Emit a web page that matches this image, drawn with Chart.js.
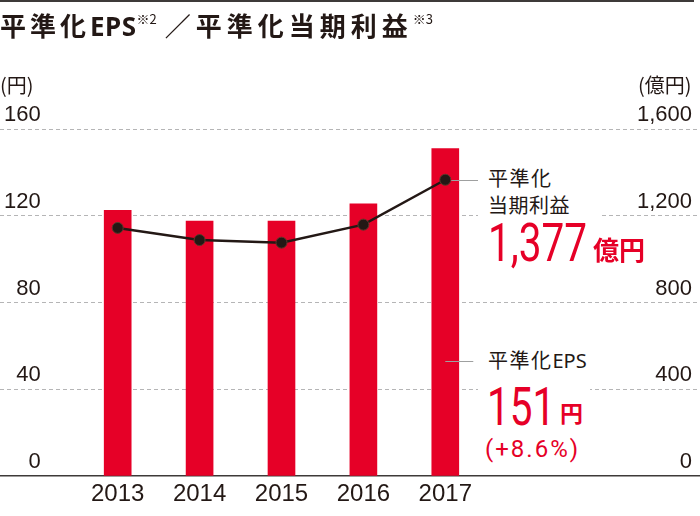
<!DOCTYPE html>
<html lang="ja">
<head>
<meta charset="utf-8">
<script src="https://cdn.jsdelivr.net/npm/chart.js@4/dist/chart.umd.min.js"></script>
<style>
  html, body { margin: 0; padding: 0; background: #fff; overflow: hidden; }
  #wrap { position: relative; width: 700px; height: 516px; }
  #c { position: absolute; left: 0; top: 0; }
  .t { position: absolute; white-space: nowrap; line-height: 1; color: #231815; font-family: "Noto Sans CJK JP", "Noto Sans", sans-serif; }
  #topline { position: absolute; left: 0; top: 0; width: 694px; height: 2px; background: #3e3a39; }
  #title { left: 0; top: 12px; font-size: 26px; font-weight: 700; }
  #title .cj { letter-spacing: 4px; }
  #title .cj2 { letter-spacing: 5px; }
  #title .la { letter-spacing: 0.5px; font-family: "Noto Sans", sans-serif; }
  #title sup { font-size: 13px; font-weight: 400; vertical-align: top; position: relative; top: 0px; margin-right: 8px; }
  .unit { font-size: 20px; top: 75px; }
  .box { position: absolute; background: #fff; }
  .red { color: #e60027; }
  .big { font-family: Roboto, "Liberation Sans", sans-serif; font-size: 54px; transform: scaleX(0.75); transform-origin: 0 0; }
</style>
</head>
<body>
<div id="wrap">
  <canvas id="c" width="700" height="516"></canvas>
  <div id="topline"></div>
  <div id="title" class="t"><span class="cj">平準化</span><span class="la">EPS</span><sup>※2</sup><span class="cj2">／平準化当期利益</span><sup>※3</sup></div>
  <div class="t unit" style="left:0px;">(円)</div>
  <div class="t unit" style="left:638px;">(億円)</div>

  <div class="box" style="left:478px; top:160px; width:124px; height:108px;"></div>
  <div class="t" style="left:488px; top:168px; font-size:20px; letter-spacing:1.5px;">平準化</div>
  <div class="t" style="left:488px; top:195px; font-size:20px; letter-spacing:0.5px;">当期利益</div>
  <div class="t red big" style="left:488px; top:216px;">1,377</div>
  <div class="t red" style="left:593px; top:236px; font-size:26px; font-weight:700;">億円</div>

  <div class="box" style="left:478px; top:345px; width:112px; height:125px;"></div>
  <div class="t" style="left:488px; top:350px; font-size:20px;"><span style="letter-spacing:1.5px;">平準化</span><span style="font-family:'Noto Sans',sans-serif;">EPS</span></div>
  <div class="t red big" style="left:487px; top:380px;">151</div>
  <div class="t red" style="left:560px; top:401px; font-size:23px; font-weight:700;">円</div>
  <div class="t red" style="left:485px; top:437px; font-size:24px; letter-spacing:2px; font-family:Roboto,'Liberation Sans',sans-serif;">(+8.6%)</div>
</div>
<script>
// ---- data ----
const years = [2013, 2014, 2015, 2016, 2017];
const epsValues = [122.5, 117.5, 117.5, 125.5, 151];      // 平準化EPS (円), left axis
const profitValues = [1144, 1088, 1076, 1159, 1366];      // 平準化当期利益 (億円), right axis, as drawn
const epsTicks = [0, 40, 80, 120, 160];
const profitTicks = [0, 400, 800, 1200, 1600];

const RED = '#e60027';
const DARK = '#231815';
const GRID = '#b5b5b6';

const leaders = {
  id: 'leaders',
  afterDatasetsDraw(chart) {
    const ctx = chart.ctx;
    const x = chart.scales.x.getPixelForValue(years[4]);
    const yProfit = chart.scales.y1.getPixelForValue(profitValues[4]);
    ctx.save();
    ctx.strokeStyle = '#9fa0a0';
    ctx.lineWidth = 1;
    ctx.beginPath();
    ctx.moveTo(x + 6, Math.round(yProfit) + 0.5);
    ctx.lineTo(x + 33, Math.round(yProfit) + 0.5);
    ctx.moveTo(x, 361.5);
    ctx.lineTo(x + 28, 361.5);
    ctx.stroke();
    ctx.restore();
  }
};

new Chart(document.getElementById('c'), {
  data: {
    datasets: [
      {
        type: 'line',
        label: '平準化当期利益',
        data: years.map((y, i) => ({ x: y, y: profitValues[i] })),
        yAxisID: 'y1',
        borderColor: DARK,
        borderWidth: 2.5,
        pointRadius: 5.5,
        pointBackgroundColor: DARK,
        pointBorderColor: '#5a3a2a',
        pointBorderWidth: 1,
        tension: 0,
        order: 0
      },
      {
        type: 'bar',
        label: '平準化EPS',
        data: years.map((y, i) => ({ x: y, y: epsValues[i] })),
        yAxisID: 'y',
        backgroundColor: RED,
        barThickness: 27,
        order: 1
      }
    ]
  },
  options: {
    responsive: false,
    animation: false,
    devicePixelRatio: 1,
    layout: { padding: { top: 129, left: 0, right: 0, bottom: 0 }, autoPadding: false },
    plugins: { legend: { display: false }, tooltip: { enabled: false } },
    scales: {
      x: {
        type: 'linear',
        offset: false,
        min: 2011.563,
        max: 2020.11,
        afterBuildTicks: s => { s.ticks = years.map(v => ({ value: v })); },
        afterFit: s => { s.height = 40; },
        grid: { display: false, drawTicks: false, offset: false },
        border: { display: true, color: '#3e3a39', width: 1.5 },
        ticks: {
          padding: 4,
          color: DARK,
          font: { family: "'Liberation Sans', Arial, sans-serif", size: 24 },
          callback: v => String(v),
          autoSkip: false,
          maxRotation: 0
        }
      },
      y: {
        position: 'left',
        min: 0,
        max: 160,
        afterBuildTicks: s => { s.ticks = epsTicks.map(v => ({ value: v })); },
        afterFit: s => { s.width = 0; },
        border: { display: false, dash: [4, 3] },
        grid: {
          drawTicks: false,
          color: c => (c.tick && c.tick.value === 0) ? 'rgba(0,0,0,0)' : GRID,
          lineWidth: 1
        },
        ticks: {
          mirror: true,
          crossAlign: 'far',
          padding: 4,
          labelOffset: -14,
          color: DARK,
          font: { family: "'Liberation Sans', Arial, sans-serif", size: 22 }
        }
      },
      y1: {
        position: 'right',
        min: 0,
        max: 1600,
        afterBuildTicks: s => { s.ticks = profitTicks.map(v => ({ value: v })); },
        afterFit: s => { s.width = 0; },
        border: { display: false },
        grid: { drawOnChartArea: false, drawTicks: false },
        ticks: {
          mirror: true,
          crossAlign: 'near',
          padding: -8,
          labelOffset: -14,
          color: DARK,
          font: { family: "'Liberation Sans', Arial, sans-serif", size: 22 },
          callback: v => v.toLocaleString('en-US')
        }
      }
    }
  },
  plugins: [leaders]
});
</script>
</body>
</html>
